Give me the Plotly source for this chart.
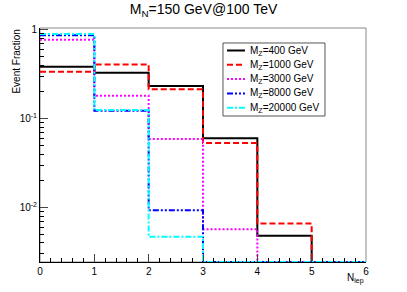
import numpy as np
import plotly.graph_objects as go

edges = [0, 1, 2, 3, 4, 5, 6]
labels = ["M<sub>Z</sub>=400 GeV", "M<sub>Z</sub>=1000 GeV", "M<sub>Z</sub>=3000 GeV",
          "M<sub>Z</sub>=8000 GeV", "M<sub>Z</sub>=20000 GeV"]
mz400 = [0.384, 0.329, 0.233, 0.060, 0.0048, 0.0]
mz1000 = [0.337, 0.408, 0.214, 0.0533, 0.0066, 0.0]
mz3000 = [0.772, 0.181, 0.0591, 0.0057, 0.0, 0.0]
mz8000 = [0.87, 0.123, 0.0093, 0.0, 0.0, 0.0]
mz20000 = [0.895, 0.125, 0.0047, 0.0, 0.0, 0.0]
colors = ["#000000", "#ff0000", "#ff00ff", "#0000ff", "#00ffff"]
dashes = ["solid", "6px,3px", "2px,2px", "6px,2px,2px,2px,2px,2px", "6px,2px,2px,2px"]

ymin_log, ymax_log = -2.613, 0.02
floor = 10 ** ymin_log

fig = go.Figure()
for lab, vals, c, d in zip(labels, [mz400, mz1000, mz3000, mz8000, mz20000], colors, dashes):
    v = np.array(vals, dtype=float)
    v = np.where(v > 0, v, floor)
    x = list(edges)
    y = list(v) + [v[-1]]
    fig.add_trace(go.Scatter(x=x, y=y, mode="lines", line=dict(shape="hv", color=c, width=2, dash=d),
                             name=lab, showlegend=False))

fig.update_layout(
    width=407, height=292,
    margin=dict(l=40, r=41, t=28, b=30),
    paper_bgcolor="white", plot_bgcolor="white",
    font=dict(family="Liberation Sans, Arial, sans-serif", color="black", size=10),
    title=dict(text="M<sub>N</sub>=150 GeV@100 TeV", x=0.5, xanchor="center", y=0.985, yanchor="top",
               font=dict(size=14)),
    xaxis=dict(range=[0, 6], tickvals=[0, 1, 2, 3, 4, 5, 6], ticks="inside", ticklen=8,
               showline=True, linecolor="black", linewidth=1, mirror=False, showgrid=False,
               zeroline=False, tickfont=dict(size=10),
               minor=dict(dtick=0.2, ticks="inside", ticklen=4, tickcolor="black", showgrid=False)),
    yaxis=dict(type="log", range=[ymin_log, ymax_log], tickvals=[0.01, 0.1, 1],
               ticktext=["10<sup>-2</sup>", "10<sup>-1</sup>", "1"], ticks="inside", ticklen=8,
               showline=True, linecolor="black", linewidth=1, showgrid=False, zeroline=False,
               tickfont=dict(size=10),
               minor=dict(dtick="D1", ticks="inside", ticklen=4, tickcolor="black", showgrid=False)),
)
fig.add_shape(type="rect", xref="paper", yref="paper", x0=0, y0=0, x1=1, y1=1,
              line=dict(color="#888888", width=1), layer="below")

# legend box (ROOT TLegend style)
fig.add_shape(type="rect", xref="paper", yref="paper", x0=0.5613, x1=0.8742, y0=0.6239, y1=0.9359,
              line=dict(color="#555555", width=1), fillcolor="white", layer="above")
for i, (lab, c, d) in enumerate(zip(labels, colors, dashes)):
    yy = (262 - (50.5 + 14.3 * i)) / 234
    fig.add_shape(type="line", xref="paper", yref="paper", x0=0.5736, x1=0.6288, y0=yy, y1=yy,
                  line=dict(color=c, width=2, dash=d), layer="above")
    fig.add_annotation(text=lab, xref="paper", yref="paper", x=0.638, y=yy, xanchor="left",
                       yanchor="middle", showarrow=False, font=dict(size=10))

fig.add_annotation(text="Event Fraction", xref="paper", yref="paper", x=-0.052, y=1.0,
                   xanchor="right", yanchor="top", textangle=-90, showarrow=False,
                   font=dict(size=10))
fig.add_annotation(text="N<sub>lep</sub>", xref="paper", yref="paper", x=1.0, y=-0.034,
                   xanchor="right", yanchor="top", showarrow=False, font=dict(size=10))
fig.write_html("out.html", post_script="document.body.style.margin='0';",
               config={"displayModeBar": False})
